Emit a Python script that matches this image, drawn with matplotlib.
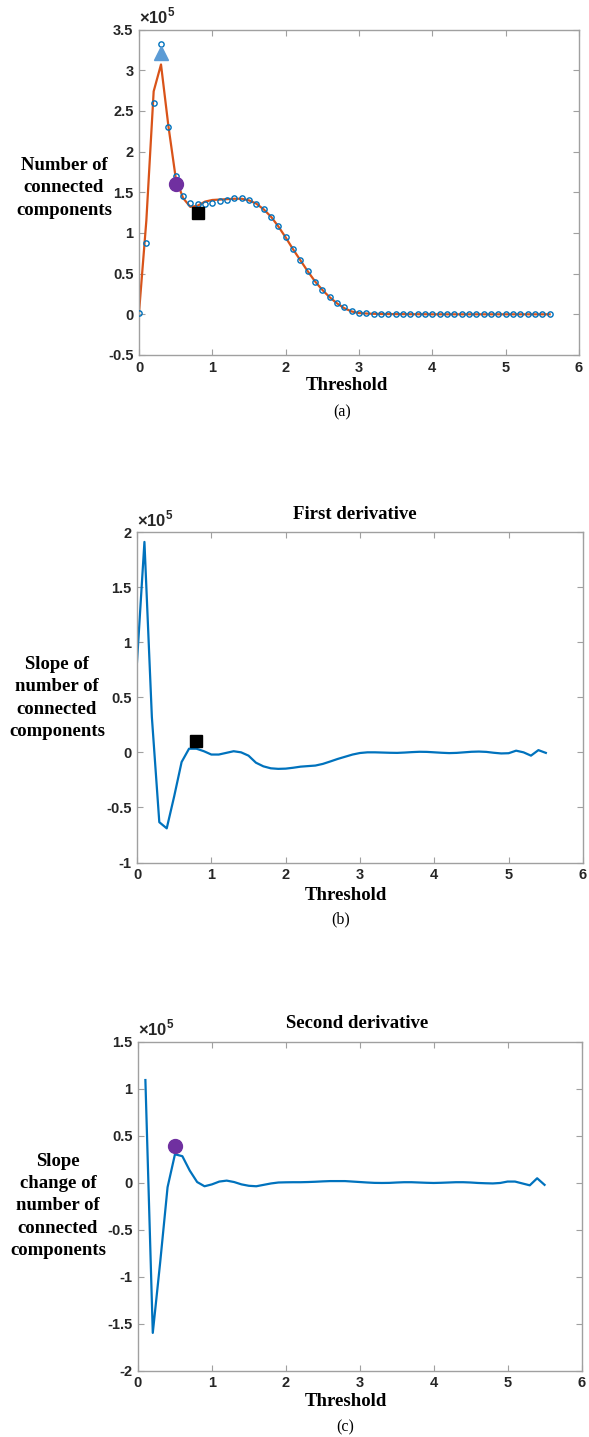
import numpy as np
import matplotlib
matplotlib.use('Agg')
import matplotlib.pyplot as plt
from matplotlib.ticker import FuncFormatter

# Threshold grid
thresh = np.round(np.arange(0, 5.61, 0.1), 2)

# Number of connected components (samples and smoothed fit)
counts = np.array([0.015, 0.88, 2.60, 3.32, 2.30, 1.70, 1.455, 1.365, 1.35, 1.356,
                   1.37, 1.39, 1.41, 1.425, 1.425, 1.405, 1.356, 1.29, 1.19, 1.08,
                   0.947, 0.80, 0.67, 0.53, 0.40, 0.30, 0.21, 0.14, 0.085, 0.04,
                   0.02, 0.012, 0.008, 0.006, 0.005, 0.004, 0.004, 0.003, 0.003, 0.003,
                   0.003, 0.002, 0.002, 0.002, 0.002, 0.002, 0.002, 0.002, 0.002, 0.002,
                   0.002, 0.002, 0.002, 0.002, 0.002, 0.002, 0.002]) * 1e5
fitted = np.array([0.02, 1.15, 2.74, 3.07, 2.32, 1.68, 1.43, 1.32, 1.335, 1.385,
                   1.405, 1.41, 1.415, 1.42, 1.42, 1.40, 1.36, 1.29, 1.20, 1.08,
                   0.945, 0.80, 0.665, 0.53, 0.405, 0.30, 0.21, 0.135, 0.075, 0.035,
                   0.015, 0.01, 0.006, 0.004, 0.003, 0.002, 0.002, 0.001, 0.001, 0.001,
                   0.0, 0.0, 0.0, 0.0, 0.0, 0.0, 0.0, 0.0, 0.0, 0.0,
                   0.0, 0.0, 0.0, 0.0, 0.0, 0.0, 0.0]) * 1e5

# First derivative (0 .. 5.5)
d1_x = thresh[:56]
d1 = np.array([0.82, 1.91, 0.32, -0.634, -0.69, -0.40, -0.088, 0.033, 0.033, 0.01,
               -0.02, -0.02, -0.005, 0.01, 0.0, -0.03, -0.094, -0.127, -0.145, -0.15,
               -0.148, -0.14, -0.13, -0.125, -0.12, -0.105, -0.083, -0.06, -0.04, -0.02,
               -0.006, 0.0, 0.0, -0.002, -0.004, -0.005, -0.002, 0.002, 0.005, 0.004,
               0.0, -0.004, -0.007, -0.005, 0.0, 0.005, 0.007, 0.004, -0.004, -0.01,
               -0.008, 0.015, 0.0, -0.03, 0.02, -0.005]) * 1e5

# Second derivative (0.1 .. 5.5)
d2_x = thresh[1:56]
d2 = np.array([1.09, -1.60, -0.85, -0.05, 0.30, 0.28, 0.127, 0.005, -0.04, -0.02,
               0.01, 0.02, 0.005, -0.02, -0.035, -0.04, -0.025, -0.01, 0.0, 0.002,
               0.003, 0.003, 0.005, 0.008, 0.012, 0.015, 0.015, 0.015, 0.01, 0.005,
               0.0, -0.004, -0.005, -0.004, 0.0, 0.003, 0.003, 0.0, -0.003, -0.005,
               -0.003, 0.0, 0.003, 0.003, 0.0, -0.005, -0.008, -0.01, -0.005, 0.01,
               0.01, -0.01, -0.03, 0.045, -0.025]) * 1e5

# Highlighted points
peak_pt = (0.3, 3.21e5)
inflect_pt_a = (0.5, 1.6e5)
min_pt_a = (0.8, 1.24e5)
min_pt_b = (0.8, 0.10e5)
inflect_pt_c = (0.5, 0.39e5)

blue = '#0072BD'
orange = '#D95319'
purple = '#7030A0'
tri_blue = '#5B9BD5'
spine_col = '#A0A0A0'
tick_col = '#262626'

plt.rcParams['mathtext.fontset'] = 'custom'
plt.rcParams['mathtext.bf'] = 'Liberation Sans:bold'
plt.rcParams['mathtext.rm'] = 'Liberation Sans:bold'

W, H = 589, 1437
fig = plt.figure(figsize=(W / 100, H / 100), dpi=100)


def px_axes(left, top, right, bottom):
    return fig.add_axes([left / W, 1 - bottom / H, (right - left) / W, (bottom - top) / H])


def style(ax, yticks):
    ax.set_xlim(0, 6)
    ax.set_xticks(range(7))
    ax.set_ylim(yticks[0] * 1e5, yticks[-1] * 1e5)
    ax.set_yticks(np.array(yticks) * 1e5)
    ax.yaxis.set_major_formatter(FuncFormatter(lambda v, p: '%g' % round(v / 1e5, 2)))
    for s in ax.spines.values():
        s.set_color(spine_col)
        s.set_linewidth(1.0)
    ax.tick_params(direction='in', length=4, width=0.8, color=spine_col,
                   top=True, right=True, labelsize=10.5, labelcolor=tick_col, pad=4)
    for lab in ax.get_xticklabels() + ax.get_yticklabels():
        lab.set_fontweight('bold')
        lab.set_fontfamily('Liberation Sans')
    ax.text(0.0, 1.008, '×10$^{\\mathbf{5}}$', transform=ax.transAxes, ha='left', va='bottom',
            fontsize=12, fontweight='bold', family='Liberation Sans', color=tick_col)


serif = 'Liberation Serif'


def ftext(x, y, s, size=13.5, weight='bold', **kw):
    fig.text(x / W, 1 - y / H, s, ha='center', va='center', fontsize=size,
             fontweight=weight, family=serif, **kw)


# (a)
ax1 = px_axes(139, 29.5, 579, 355)
ax1.plot(thresh, fitted, color=orange, lw=1.6, zorder=2)
ax1.plot(thresh, counts, 'o', mfc='none', mec=blue, ms=3.8, mew=1.0, zorder=3)
ax1.plot(*peak_pt, '^', color=tri_blue, ms=10, zorder=4)
ax1.plot(*inflect_pt_a, 'o', color=purple, ms=10, zorder=4)
ax1.plot(*min_pt_a, 's', color='black', ms=8, zorder=4)
style(ax1, [-0.5, 0, 0.5, 1, 1.5, 2, 2.5, 3, 3.5])
ftext(64, 188, 'Number of\nconnected\ncomponents', linespacing=1.42)
ftext(347, 386, 'Threshold')
ftext(342, 412, '(a)', size=11.5, weight='normal')

# (b)
ax2 = px_axes(137, 532, 583, 862.5)
ax2.plot(d1_x, d1, color=blue, lw=1.6)
ax2.plot(*min_pt_b, 's', color='black', ms=8, zorder=4)
style(ax2, [-1, -0.5, 0, 0.5, 1, 1.5, 2])
ftext(57, 698, 'Slope of\nnumber of\nconnected\ncomponents', linespacing=1.42)
ftext(355, 515, 'First derivative')
ftext(346, 895, 'Threshold')
ftext(341, 919, '(b)', size=11.5, weight='normal')

# (c)
ax3 = px_axes(138, 1041.5, 581.5, 1370.5)
ax3.plot(d2_x, d2, color=blue, lw=1.6)
ax3.plot(*inflect_pt_c, 'o', color=purple, ms=10, zorder=4)
style(ax3, [-2, -1.5, -1, -0.5, 0, 0.5, 1, 1.5])
ftext(58, 1206, 'Slope\nchange of\nnumber of\nconnected\ncomponents', linespacing=1.42)
ftext(357, 1023, 'Second derivative')
ftext(346, 1402, 'Threshold')
ftext(345, 1427, '(c)', size=11.5, weight='normal')

fig.savefig('out.png', dpi=100)
